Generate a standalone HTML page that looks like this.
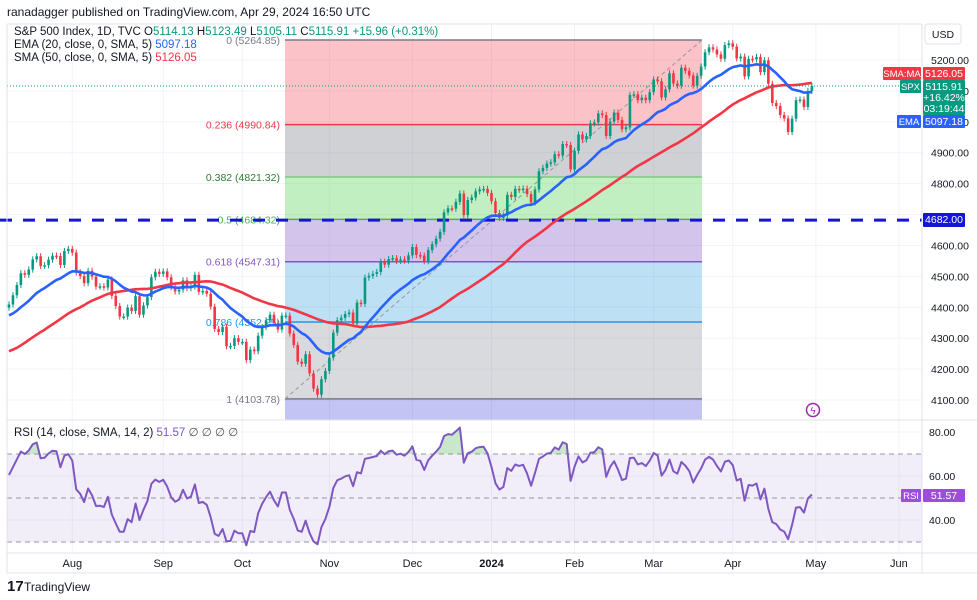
<!DOCTYPE html>
<html><head><meta charset="utf-8"><style>
html,body{margin:0;padding:0;background:#fff;}
svg{display:block;font-family:"Liberation Sans",sans-serif;}
</style></head><body>
<svg id="c" width="977" height="600" viewBox="0 0 977 600">
<text x="7" y="16" font-size="12" fill="#131722">ranadagger published on TradingView.com, Apr 29, 2024 16:50 UTC</text>
<g id="grid"></g>
<g id="fib"></g>
<g id="price"></g>
<g id="rsi"></g>
<g id="axes"></g>
<g font-size="11.5">
<text x="14" y="35" fill="#131722">S&amp;P 500 Index, 1D, TVC <tspan fill="#131722">O</tspan><tspan fill="#089981">5114.13</tspan> <tspan fill="#131722">H</tspan><tspan fill="#089981">5123.49</tspan> <tspan fill="#131722">L</tspan><tspan fill="#089981">5105.11</tspan> <tspan fill="#131722">C</tspan><tspan fill="#089981">5115.91</tspan> <tspan fill="#089981">+15.96 (+0.31%)</tspan></text>
<text x="14" y="48" fill="#131722">EMA (20, close, 0, SMA, 5) <tspan fill="#2962FF">5097.18</tspan></text>
<text x="14" y="61" fill="#131722">SMA (50, close, 0, SMA, 5) <tspan fill="#F23645">5126.05</tspan></text>
<text x="14" y="436" fill="#131722">RSI (14, close, SMA, 14, 2) <tspan fill="#7E57C2">51.57</tspan> <tspan fill="#555">∅ ∅ ∅ ∅</tspan></text>
</g>
<g><text x="7" y="591" font-size="15" font-weight="bold" fill="#131722">17</text><text x="24" y="591" font-size="12" fill="#131722">TradingView</text></g>
<g><circle cx="813" cy="410" r="6.5" fill="none" stroke="#9c27b0" stroke-width="1.5"/><text x="813" y="414" font-size="10" text-anchor="middle" fill="#9c27b0">ϟ</text></g>
</svg>
<script>
const preCloses = [4055,4136,4169,4167,4119,4091,4061,4136,4138,4119,4138,4130,4137,4136,4110,4109,4158,4198,4192,4192,4146,4115,4151,4205,4205,4180,4221,4282,4273,4284,4268,4294,4299,4338,4369,4373,4426,4410,4389,4366,4382,4348,4329,4378,4377,4396,4450,4456,4447,4412,4399];
const closes = [4409,4439,4472,4510,4505,4522,4555,4565,4534,4536,4554,4567,4566,4537,4582,4589,
4577,4513,4501,4478,4518,4499,4467,4468,4464,4490,4437,4404,4370,4370,4399,4388,4436,4376,4406,4433,4497,4515,4508,
4516,4497,4465,4451,4457,4487,4462,4467,4505,4450,4453,4444,4402,4330,4320,4337,4274,4275,4300,4288,
4288,4229,4263,4258,4308,4336,4358,4376,4349,4328,4373,4373,4315,4278,4224,4217,4248,4186,4137,4117,4167,4194,
4237,4318,4358,4366,4378,4383,4347,4415,4411,4496,4502,4508,4514,4547,4538,4556,4559,4550,4555,4551,4568,
4595,4569,4567,4549,4585,4604,4622,4644,4707,4720,4719,4741,4768,4698,4747,4755,4775,4781,4783,4770,
4743,4705,4689,4697,4764,4757,4783,4780,4784,4766,4739,4781,4840,4851,4865,4869,4895,4891,4928,4925,4846,
4906,4959,4943,4954,4995,4998,5027,5022,4954,5001,5030,5006,4976,4982,5087,5089,5070,5078,5070,5096,
5137,5131,5079,5105,5157,5124,5117,5175,5165,5150,5117,5149,5179,5225,5241,5234,5218,5204,5248,5254,
5243,5205,5211,5147,5204,5202,5210,5161,5199,5123,5061,5051,5022,5011,4967,5010,5070,5072,5048,5100,5116];
const priceTicks = [5200,5100,5000,4900,4800,4700,4600,4500,4400,4300,4200,4100];
const rsiTicks = [80,60,40];
const monthLabels = ["Aug","Sep","Oct","Nov","Dec","2024","Feb","Mar","Apr","May","Jun"];
const monthIndex = [16,39,59,81,102,122,143,163,183,204,225];
const fibRatios = [0,0.236,0.382,0.5,0.618,0.786,1];
const fibHigh = 5264.85, fibLow = 4103.78;
const lastClose = 5115.91;

const NS="http://www.w3.org/2000/svg";
function mk(tag,attrs,parent){const e=document.createElementNS(NS,tag);for(const k in attrs)e.setAttribute(k,attrs[k]);parent.appendChild(e);return e;}
const py=p=>60+(5200-p)*340/1100;
const bx=i=>9+i*3.955;
const ry=v=>432+(80-v)*2.2;
const PR=922;
const grid=document.getElementById('grid'),fib=document.getElementById('fib'),price=document.getElementById('price'),rsiG=document.getElementById('rsi'),axes=document.getElementById('axes');

priceTicks.forEach(t=>{const l=mk('line',{x1:7,x2:PR,y1:py(t),y2:py(t),stroke:'#f0f3fa'},grid);

});
monthIndex.forEach(m=>{const l=mk('line',{x1:bx(m),x2:bx(m),y1:24,y2:553,stroke:'#f0f3fa'},grid);

});
[80,60,40].forEach(v=>{const l=mk('line',{x1:7,x2:PR,y1:ry(v),y2:ry(v),stroke:'#f0f3fa'},grid);

});

const fx1=285,fx2=702;
const fibFill=['rgba(242,54,69,0.3)','rgba(120,123,134,0.35)','rgba(76,210,76,0.35)','rgba(126,87,194,0.35)','rgba(41,152,220,0.3)','rgba(120,123,134,0.28)'];
const fibLine=['#787b86','#F23645','#81c784','#4caf50','#7e57c2','#2196f3','#787b86'];
const fibTxt=['#787b86','#F23645','#2e7d32','#4caf50','#7e57c2','#2196f3','#787b86'];
const fv=r=>fibHigh-(fibHigh-fibLow)*r;
for(let k=0;k<fibRatios.length-1;k++){const y1=py(fv(fibRatios[k])),y2=py(fv(fibRatios[k+1]));
const r=mk('rect',{x:fx1,y:y1,width:fx2-fx1,height:y2-y1,fill:fibFill[k]},fib);

}
{const r=mk('rect',{x:fx1,y:py(fibLow),width:fx2-fx1,height:420-py(fibLow),fill:'rgba(60,60,220,0.3)'},fib);

}
fibRatios.forEach((r,k)=>{const y=py(fv(r));
const l=mk('line',{x1:fx1,x2:fx2,y1:y,y2:y,stroke:fibLine[k],'stroke-width':1.5},fib);


const t=mk('text',{x:280,y:y+4,'font-size':10.5,'text-anchor':'end',fill:fibTxt[k]},fib);
t.textContent=r+' ('+fv(r).toFixed(2)+')';

});
{const l=mk('line',{x1:fx1,y1:py(fibLow),x2:fx2,y2:py(fibHigh),stroke:'#9598a1','stroke-dasharray':'4,3','stroke-width':1},fib);

}

{const l=mk('line',{x1:0,x2:PR,y1:py(4682),y2:py(4682),stroke:'#1515d6','stroke-width':3,'stroke-dasharray':'12,11'},price);

}

const all=preCloses.concat(closes),P=preCloses.length;
closes.forEach((c,i)=>{const o=all[P+i-1],up=c>=o,col=up?'#089981':'#F23645',x=bx(i);
const hi=Math.max(o,c)+10,lo=Math.min(o,c)-10;
const w=mk('line',{x1:x,x2:x,y1:py(hi),y2:py(lo),stroke:col,'stroke-width':1},price);


const yt=py(Math.max(o,c)),yb=py(Math.min(o,c));
const b=mk('rect',{x:x-1.3,y:yt,width:2.6,height:Math.max(1.5,yb-yt),fill:col},price);

});

let ema=[],e=all.slice(0,20).reduce((a,b)=>a+b,0)/20;
for(let j=0;j<all.length;j++){if(j>=20)e=all[j]*2/21+e*19/21;ema.push(e);}
let sma=[];for(let j=0;j<all.length;j++){const s=all.slice(Math.max(0,j-49),j+1);sma.push(s.reduce((a,b)=>a+b,0)/s.length);}
function poly(arr,col,name){let d='';closes.forEach((_,i)=>{d+=(i?'L':'M')+bx(i).toFixed(1)+','+py(arr[P+i]).toFixed(1);});
const p=mk('path',{d:d,fill:'none',stroke:col,'stroke-width':2.6,'stroke-linejoin':'round'},price);

}
poly(sma,'#F23645','sma50-line');
poly(ema,'#2962FF','ema20-line');
{const l=mk('line',{x1:7,x2:PR,y1:py(lastClose),y2:py(lastClose),stroke:'#089981','stroke-dasharray':'1,2'},price);

}

let rsi=[],ag=0,al=0;
for(let j=1;j<all.length;j++){const d=all[j]-all[j-1],g=Math.max(d,0),l=Math.max(-d,0);
if(j<=14){ag+=g/14;al+=l/14;}else{ag=(ag*13+g)/14;al=(al*13+l)/14;}
rsi[j]=al===0?100:100-100/(1+ag/al);}
{const r=mk('rect',{x:7,y:ry(70),width:PR-7,height:ry(30)-ry(70),fill:'rgba(126,87,194,0.1)'},rsiG);

}
[70,50,30].forEach(v=>{const l=mk('line',{x1:7,x2:PR,y1:ry(v),y2:ry(v),stroke:'#9598a1','stroke-dasharray':'5,4'},rsiG);

});
let rd='';closes.forEach((_,i)=>{rd+=(i?'L':'M')+bx(i).toFixed(1)+','+ry(rsi[P+i]).toFixed(1);});
const defs=mk('defs',{},rsiG);
const cp=mk('clipPath',{id:'ob'},defs);mk('rect',{x:0,y:0,width:977,height:ry(70)},cp);
const cp2=mk('clipPath',{id:'os'},defs);mk('rect',{x:0,y:ry(30),width:977,height:100},cp2);
{const a=mk('path',{d:rd+'L'+bx(closes.length-1)+','+ry(70)+'L'+bx(0)+','+ry(70)+'Z',fill:'rgba(76,175,80,0.3)','clip-path':'url(#ob)'},rsiG);


const b=mk('path',{d:rd+'L'+bx(closes.length-1)+','+ry(30)+'L'+bx(0)+','+ry(30)+'Z',fill:'rgba(242,54,69,0.3)','clip-path':'url(#os)'},rsiG);

}
{const p=mk('path',{d:rd,fill:'none',stroke:'#7E57C2','stroke-width':2,'stroke-linejoin':'round'},rsiG);

}

[[7,24,PR,24],[7,420,977,420],[7,553,977,553],[7,573,977,573],[PR,24,PR,573],[7,24,7,573]].forEach(s=>{const l=mk('line',{x1:s[0],y1:s[1],x2:s[2],y2:s[3],stroke:'#e0e3eb'},axes);

});
priceTicks.forEach(t=>{if(t===4700)return;const tx=mk('text',{x:931,y:py(t)+4,'font-size':10.5,fill:'#131722'},axes);tx.textContent=t.toFixed(2);

});
rsiTicks.forEach(t=>{const tx=mk('text',{x:929,y:ry(t)+4,'font-size':10.5,fill:'#131722'},axes);tx.textContent=t.toFixed(2);

});
monthLabels.forEach((m,k)=>{const tx=mk('text',{x:bx(monthIndex[k]),y:567,'font-size':11,'text-anchor':'middle',fill:'#131722','font-weight':m==='2024'?'bold':'normal'},axes);tx.textContent=m;

});
{const r=mk('rect',{x:925,y:24,width:36,height:20,rx:3,fill:'#fff',stroke:'#e0e3eb'},axes);


const t=mk('text',{x:943,y:38,'font-size':10.5,'text-anchor':'middle',fill:'#131722'},axes);t.textContent='USD';}
function tag(x,y,w,h,fill,txt,name,fs){const r=mk('rect',{x:x,y:y,width:w,height:h,fill:fill,rx:1},axes);


txt.forEach((s,k)=>{const t=mk('text',{x:x+w/2,y:y+10+k*11,'font-size':fs||10.5,'text-anchor':'middle',fill:'#fff'},axes);t.textContent=s;});}
tag(883,67,38,13,'#F23645',['SMA:MA'],'sma-axis-tag',9.5);
tag(923,67,42,13,'#F23645',['5126.05'],'sma-price-tag');
tag(900,80,21,13,'#089981',['SPX'],'spx-axis-tag',9.5);
tag(923,80,42,35,'#089981',['5115.91','+16.42%','03:19:44'],'spx-price-tag');
tag(897,115,24,13,'#2962FF',['EMA'],'ema-axis-tag',9.5);
tag(923,115,42,13,'#2962FF',['5097.18'],'ema-price-tag');
tag(923,213,42,14,'#1515d6',['4682.00'],'support-price-tag');
tag(901,489,20,13,'#9c4fd6',['RSI'],'rsi-axis-tag',9.5);
tag(923,489,42,13,'#9c4fd6',['51.57'],'rsi-value-tag');
</script>
</body></html>
